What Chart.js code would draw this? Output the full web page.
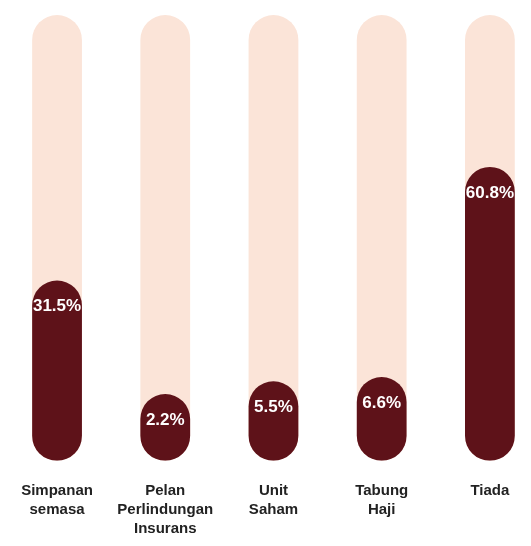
<!DOCTYPE html>
<html>
<head>
<meta charset="utf-8">
<script src="https://cdn.jsdelivr.net/npm/chart.js@4.4.1/dist/chart.umd.min.js"></script>
<style>
  html, body { margin: 0; padding: 0; background: #fff; overflow: hidden; }
  #wrap { position: absolute; left: 0; top: 0; width: 546px; height: 568px; }
</style>
</head>
<body>
<div id="wrap"><canvas id="myChart"></canvas></div>
<script>
// label kategori (baris dipecah)
const categories = [
    ['Simpanan', 'semasa'],
    ['Pelan', 'Perlindungan', 'Insurans'],
    ['Unit', 'Saham'],
    ['Tabung', 'Haji'],
    ['Tiada']
];
const values = [31.5, 2.2, 5.5, 6.6, 60.8]; // peratus
const track = [100, 100, 100, 100, 100]; // bar latar (100%)

const BASE = -15; // bar bermula sedikit di bawah sifar, macam infografik asal
const round = { topLeft: 40, topRight: 40, bottomLeft: 40, bottomRight: 40 };

// tulis peratus di hujung atas setiap bar gelap
const valueLabels = {
    id: 'valueLabels',
    afterDatasetsDraw(chart) {
        const meta = chart.getDatasetMeta(0);
        const c = chart.ctx;
        c.save();
        c.fillStyle = '#ffffff';
        c.font = 'bold 17px "Liberation Sans", Arial, sans-serif';
        c.textAlign = 'center';
        c.textBaseline = 'middle';
        meta.data.forEach(function(bar, i) {
            c.fillText(values[i].toFixed(1) + '%', bar.x, bar.y + 26);
        });
        c.restore();
    }
};

const ctx = document.getElementById('myChart').getContext('2d');
let chart = new Chart(ctx, {
    type: 'bar',
    data: {
        labels: categories,
        datasets: [{
            data: values,
            backgroundColor: '#5e1219',
            base: BASE,
            borderRadius: round,
            borderSkipped: false,
            grouped: false,
            order: 0
        }, {
            data: track,
            backgroundColor: '#fbe4d8',
            base: BASE,
            borderRadius: round,
            borderSkipped: false,
            grouped: false,
            order: 1
        }]
    },
    options: {
        responsive: true,
        maintainAspectRatio: false,
        animation: false,
        layout: { padding: { top: 15, left: 2, right: 2, bottom: 9 } },
        datasets: {
            bar: { categoryPercentage: 1, barPercentage: 0.46 }
        },
        plugins: {
            legend: { display: false },
            tooltip: { enabled: false }
        },
        scales: {
            x: {
                grid: { display: false, drawTicks: false },
                border: { display: false },
                ticks: {
                    color: '#222',
                    padding: 21,
                    maxRotation: 0,
                    autoSkip: false,
                    font: { family: '"Liberation Sans", Arial, sans-serif', size: 15, weight: 'bold', lineHeight: 1.25 }
                }
            },
            y: {
                display: false,
                min: BASE,
                max: 100
            }
        }
    },
    plugins: [valueLabels]
});
</script>
</body>
</html>
